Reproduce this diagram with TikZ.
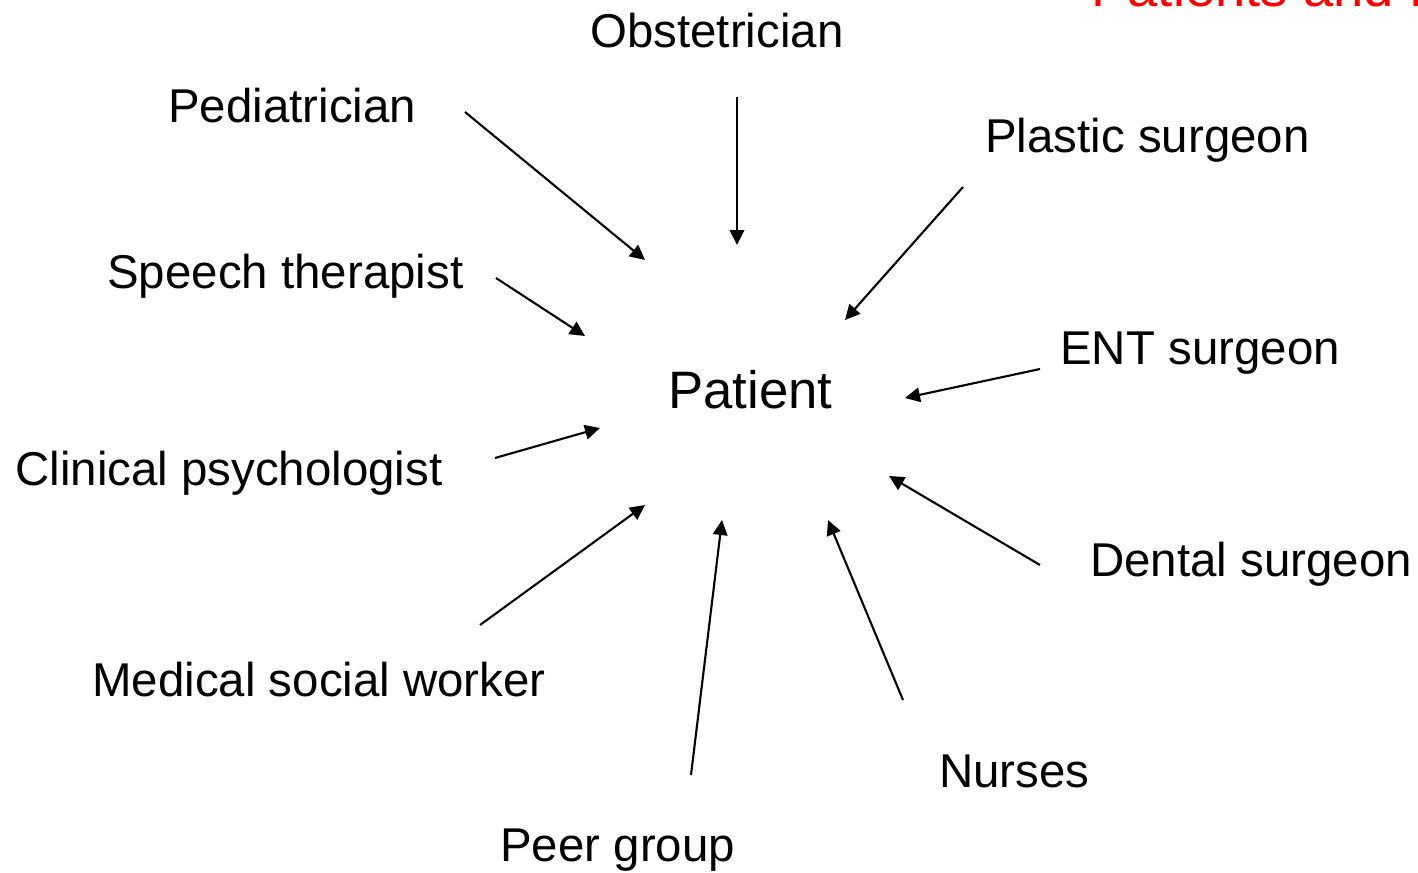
\documentclass[tikz,border=0pt]{standalone}
\usepackage{fontspec}
\setmainfont{Liberation Sans}
\usetikzlibrary{arrows.meta}

\begin{document}
\begin{tikzpicture}[x=0.02cm, y=-0.02cm,
  role/.style={anchor=base west, inner sep=0pt, font=\fontsize{27}{32}\selectfont},
  link/.style={line width=1.2pt, -{Triangle[length=0.3cm, width=0.29cm]}}]
\useasboundingbox (0, 0) rectangle (1418, 873);
\clip (0, 0) rectangle (1418, 873);

\node[role, font=\fontsize{30}{36}\selectfont] (patient) at (668, 408) {Patient};
\node[role, text=red, font=\fontsize{31}{37}\selectfont] (title) at (1091, 6) {Patients and Parents};

\node[role] (obst) at (590, 47) {Obstetrician};
\node[role] (ped) at (168, 122) {Pediatrician};
\node[role] (plastic) at (985, 152) {Plastic surgeon};
\node[role] (speech) at (107, 288) {Speech therapist};
\node[role] (ent) at (1060, 364) {ENT surgeon};
\node[role] (clin) at (15, 485) {Clinical psychologist};
\node[role] (dental) at (1090, 576) {Dental surgeon};
\node[role] (msw) at (92, 696) {Medical social worker};
\node[role] (nurses) at (939, 787) {Nurses};
\node[role] (peer) at (500, 861) {Peer group};

% arrow ends
\coordinate (ped-t) at (465, 112);    \coordinate (ped-h) at (645, 260);
\coordinate (obst-t) at (737, 97);    \coordinate (obst-h) at (737, 245);
\coordinate (plastic-t) at (963, 187);\coordinate (plastic-h) at (845, 320);
\coordinate (speech-t) at (496, 278); \coordinate (speech-h) at (585, 336);
\coordinate (ent-t) at (1040, 369);   \coordinate (ent-h) at (905, 398);
\coordinate (clin-t) at (495, 458);   \coordinate (clin-h) at (600, 428);
\coordinate (dental-t) at (1040, 565);\coordinate (dental-h) at (889, 476);
\coordinate (msw-t) at (480, 625);    \coordinate (msw-h) at (645, 505);
\coordinate (peer-t) at (691, 775);   \coordinate (peer-h) at (722, 520);
\coordinate (nurses-t) at (903, 700); \coordinate (nurses-h) at (828, 520);

\foreach \r in {ped, obst, plastic, speech, ent, clin, dental, msw, peer, nurses}
  \draw[link] (\r-t) -- (\r-h);
\end{tikzpicture}
\end{document}
